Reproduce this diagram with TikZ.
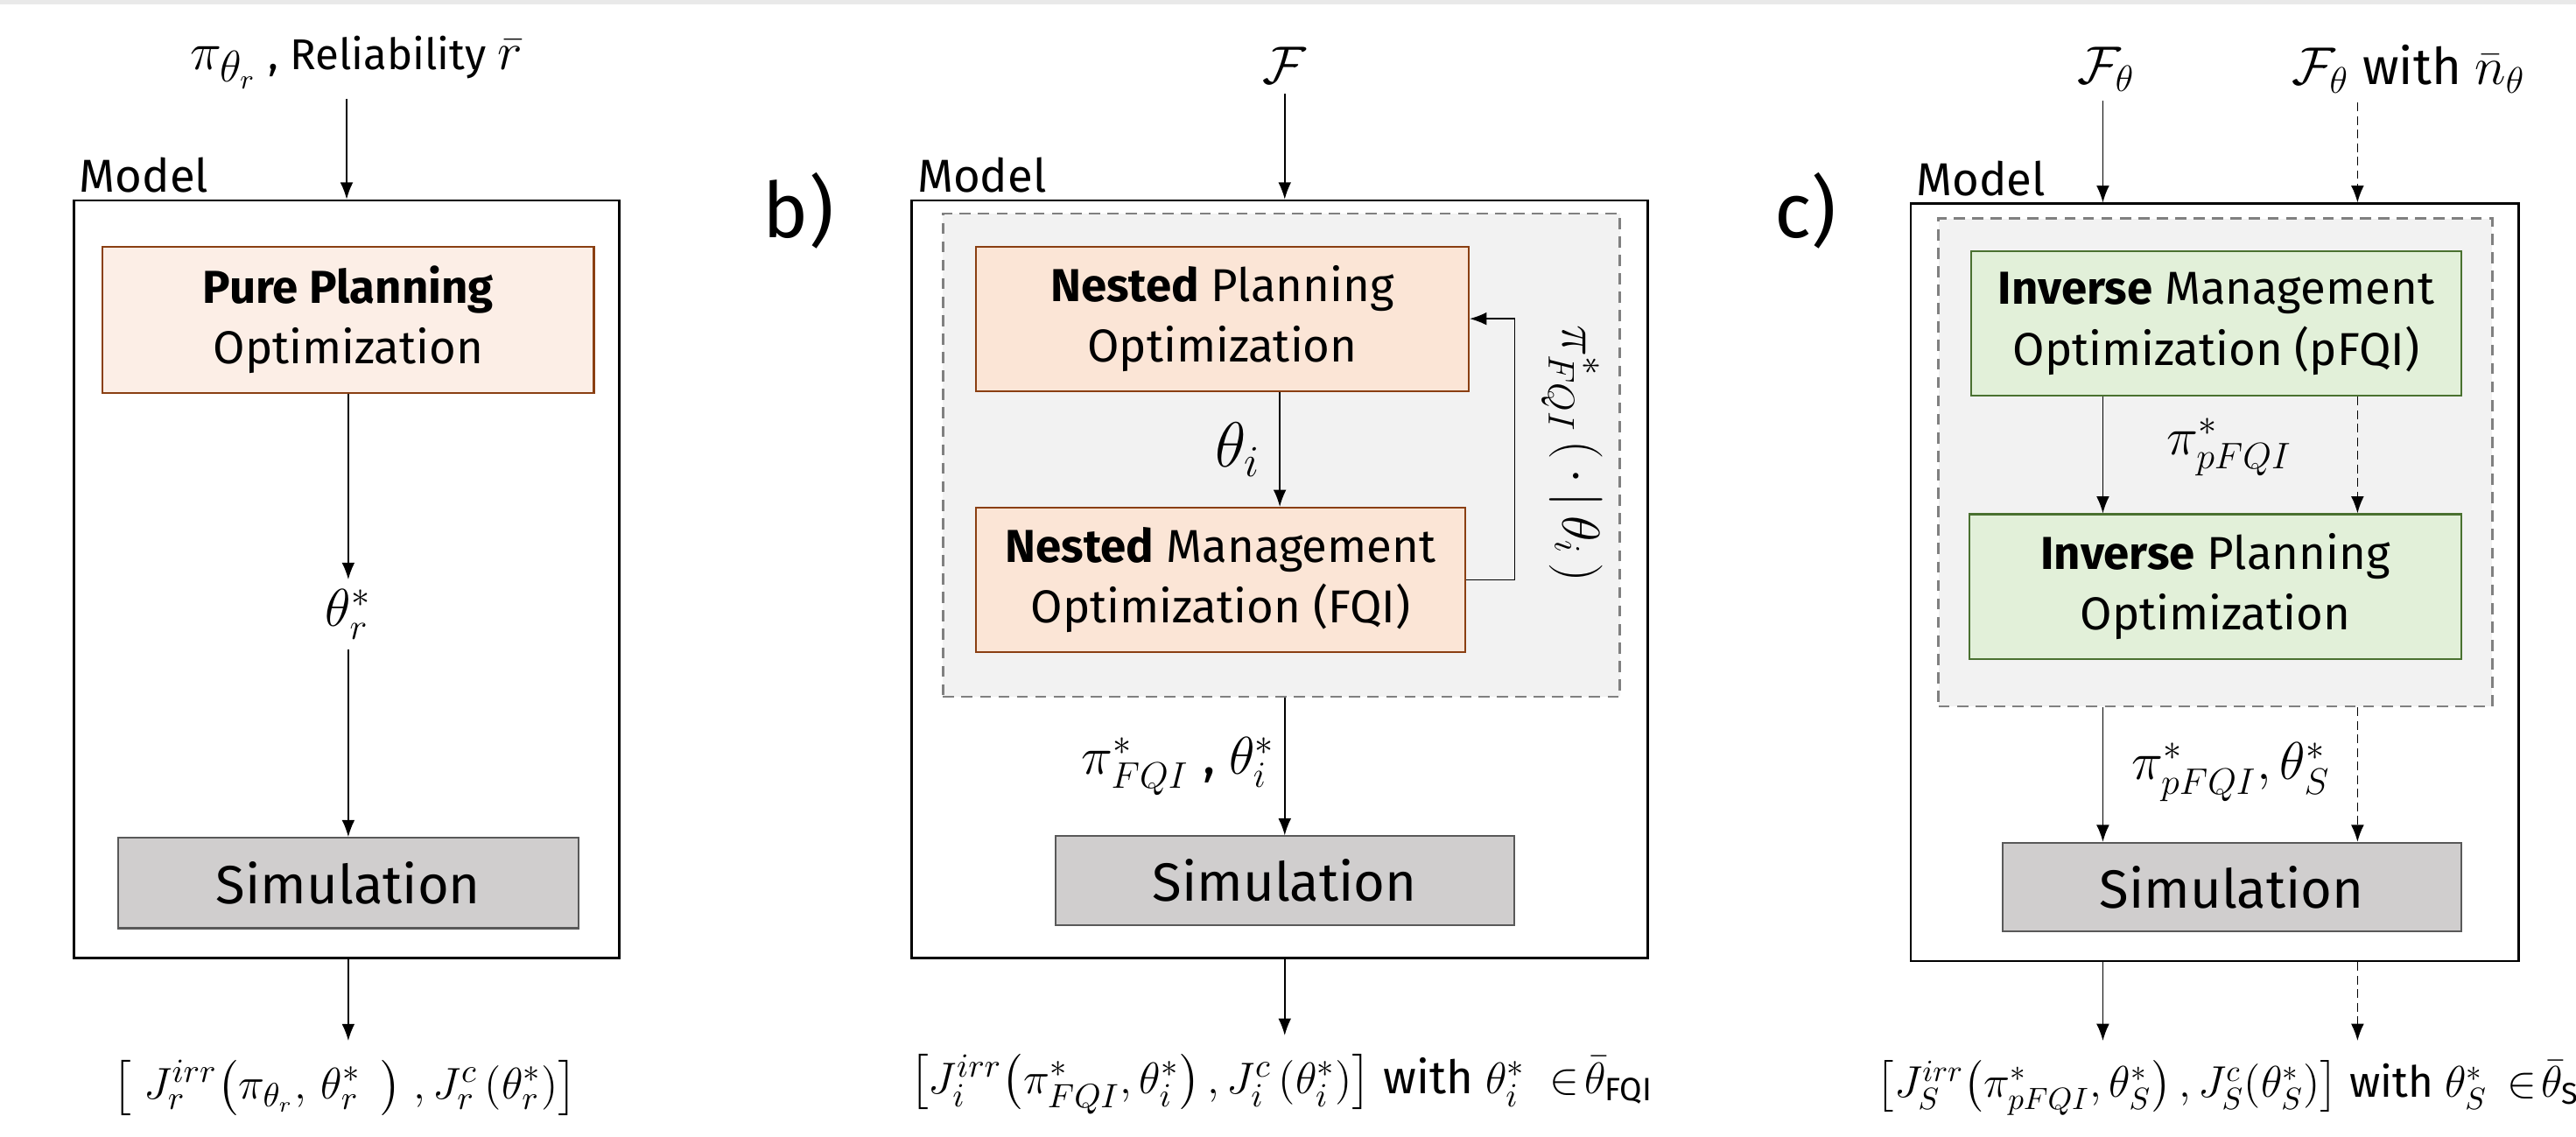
\documentclass[tikz,border=0pt]{standalone}
\usepackage{amsmath}
\usepackage{amssymb}
\usepackage{fontspec}
\setmainfont{Fira Sans}
\usetikzlibrary{arrows.meta}

\definecolor{kopfgrau}{HTML}{E9E9E9}
\definecolor{purefuell}{HTML}{FCEEE6}
\definecolor{planfuell}{HTML}{FBE5D6}
\definecolor{planrand}{HTML}{8A3F12}
\definecolor{invfuell}{HTML}{E2F0D9}
\definecolor{invrand}{HTML}{4A7130}
\definecolor{simfuell}{HTML}{D0CECE}
\definecolor{simrand}{HTML}{595959}
\definecolor{rahmengrau}{HTML}{808080}
\definecolor{innenfuell}{HTML}{F2F2F2}

\begin{document}
\begin{tikzpicture}[x=0.01877cm, y=-0.01877cm,
    optbox/.style={draw, line width=0.6pt, align=center, inner sep=0pt,
        font=\fontsize{15}{19.7}\selectfont},
    purebox/.style={optbox, draw=planrand, fill=purefuell},
    planbox/.style={optbox, draw=planrand, fill=planfuell},
    invbox/.style={optbox, draw=invrand, fill=invfuell},
    simbox/.style={optbox, draw=simrand, fill=simfuell,
        font=\fontsize{17.5}{20}\selectfont},
    modelbox/.style={draw=black, line width=0.75pt, inner sep=0pt},
    modeltext/.style={anchor=south west, inner sep=2pt,
        font=\fontsize{15}{18}\selectfont},
    gruppe/.style={draw=rahmengrau, fill=innenfuell, line width=0.75pt,
        dash pattern=on 3.6pt off 2.4pt, inner sep=0pt},
    eingabe/.style={inner sep=3pt, font=\fontsize{16.5}{20}\selectfont},
    mathlabel/.style={inner sep=3pt, font=\fontsize{17}{20}\selectfont},
    ausgabe/.style={inner sep=2pt, font=\fontsize{15}{18}\selectfont},
    abschnitt/.style={inner sep=0pt, font=\fontsize{25}{30}\selectfont},
    pfeil/.style={-{Latex[length=5.5pt,width=4.2pt]}, line width=0.45pt},
    strich/.style={pfeil, dash pattern=on 2.8pt off 1.6pt}]

    % Einheit = ein Pixel der Vorlage
    \def\s{0.01877cm}
    \def\mit{\ with\ }
    \def\gross{\fontsize{19}{20}\selectfont}
    \useasboundingbox (0,0) rectangle (1568,692);

    % Linie am oberen Rand
    \fill[kopfgrau] (0,0) rectangle (1568,2.7);

    % a) Pure Planning
    \node[eingabe, font=\fontsize{14}{17}\selectfont] (ina) at (217,38) {{\gross$\pi_{\theta_r}$} , Reliability {\gross$\bar{r}$}};
    \node[modelbox, minimum width=332*\s, minimum height=461*\s] (moda) at (211,352.5) {};
    \node[modeltext] (mta) at (moda.north west) {Model};
    \node[purebox, minimum width=299*\s, minimum height=89*\s] (purea) at (212,194.5) {\textbf{Pure Planning}\\Optimization};
    \node[mathlabel, font=\fontsize{18}{20}\selectfont] (thra) at (212,374) {$\theta_r^*$};
    \node[simbox, minimum width=280*\s, minimum height=55*\s] (sima) at (212,537.5) {Simulation};
    \node[ausgabe] (outa) at (210,662) {$\bigl[\;J_r^{irr}\bigl(\pi_{\theta_r},\,\theta_r^*\ \,\bigr)\;,J_r^{c}\,(\theta_r^*)\bigr]$};

    \draw[pfeil] (ina.south -| moda.north) -- (moda.north);
    \draw[pfeil] (purea) -- (thra);
    \draw[pfeil] (thra) -- (sima);
    \draw[pfeil, shorten >=4pt] (moda.south -| sima) -- (outa.north -| sima);

    % b) Nested
    \node[abschnitt] (lb) at (486,128) {b)};
    \node[eingabe, font=\fontsize{18}{20}\selectfont] (inb) at (782,40) {$\mathcal{F}$};
    \node[modelbox, minimum width=448*\s, minimum height=461*\s] (modb) at (779,352.5) {};
    \node[modeltext] (mtb) at (modb.north west) {Model};
    \node[gruppe, minimum width=412*\s, minimum height=294*\s] (grb) at (780,277) {};
    \node[planbox, minimum width=300*\s, minimum height=88*\s] (npb) at (744,194) {\textbf{Nested} Planning\\Optimization};
    \node[planbox, minimum width=298*\s, minimum height=88*\s] (nmb) at (743,353) {\textbf{Nested} Management\\Optimization (FQI)};
    \node[mathlabel, rotate=-90] (fbb) at (957,276) {$\pi^*_{FQI}\,(\,\cdot\,|\,\theta_i\,)$};
    \node[simbox, minimum width=279*\s, minimum height=54*\s] (simb) at (782,536) {Simulation};
    \node[ausgabe] (outb) at (780,660) {$\bigl[J_i^{irr}\bigl(\pi^*_{FQI},\theta_i^*\bigr)\,,J_i^{c}\,(\theta_i^*)\bigr]$\mit$\theta_i^*\ \in\!\bar{\theta}_{\text{FQI}}$};
    \coordinate (xb) at (779,0);
    \coordinate (rueck) at (922,0);

    \draw[pfeil] (inb) -- (inb |- modb.north);
    \draw[pfeil] (npb.south -| xb) -- node[mathlabel, left, inner sep=6pt, font=\fontsize{20}{22}\selectfont] {$\theta_i$} (nmb.north -| xb);
    \draw[pfeil] (nmb.east) -- (nmb.east -| rueck) -- (npb.east -| rueck) -- (npb.east);
    \draw[pfeil] (grb.south -| simb) -- node[mathlabel, left] {$\pi^*_{FQI}$ , $\theta_i^*$} (simb);
    \draw[pfeil, shorten >=4pt] (modb.south -| simb) -- (outb.north -| simb);

    % c) Inverse
    \node[abschnitt] (lc) at (1099,128) {c)};
    \node[eingabe] (inc) at (1282,42) {$\mathcal{F}_\theta$};
    \node[eingabe] (incn) at (1466,42) {$\mathcal{F}_\theta$ with $\bar{n}_\theta$};
    \node[modelbox, minimum width=370*\s, minimum height=461*\s] (modc) at (1348,354.5) {};
    \node[modeltext] (mtc) at (modc.north west) {Model};
    \node[gruppe, minimum width=337*\s, minimum height=297*\s] (grc) at (1348.5,281.5) {};
    \node[invbox, minimum width=298*\s, minimum height=88*\s] (imc) at (1349,197) {\textbf{Inverse} Management\\Optimization (pFQI)};
    \node[invbox, minimum width=299*\s, minimum height=88*\s] (ipc) at (1348.5,357) {\textbf{Inverse} Planning\\Optimization};
    \node[mathlabel] (pic) at (1357,272) {$\pi^*_{pFQI}$};
    \node[simbox, minimum width=279*\s, minimum height=54*\s] (simc) at (1358.5,540) {Simulation};
    \node[mathlabel] (pitc) at (1358,470) {$\pi^*_{pFQI}, \theta_S^*$};
    \node[ausgabe, anchor=west, font=\fontsize{14}{17}\selectfont] (outc) at (1138,662) {$\bigl[J_S^{irr}\bigl(\pi^*_{pFQI},\theta_S^*\bigr)\,,J_S^{c}(\theta_S^*)\bigr]$ with $\theta_S^*\,\in\!\bar{\theta}_{\text{SIM}}$};
    \coordinate (xs) at (1280,0);
    \coordinate (xd) at (1435,0);

    \draw[pfeil] (inc.south -| xs) -- (modc.north -| xs);
    \draw[strich] (incn.south -| xd) -- (modc.north -| xd);
    \draw[pfeil] (imc.south -| xs) -- (ipc.north -| xs);
    \draw[strich] (imc.south -| xd) -- (ipc.north -| xd);
    \draw[pfeil] (grc.south -| xs) -- (simc.north -| xs);
    \draw[strich] (grc.south -| xd) -- (simc.north -| xd);
    \draw[pfeil, shorten >=4pt] (modc.south -| xs) -- (outc.north -| xs);
    \draw[strich, shorten >=4pt] (modc.south -| xd) -- (outc.north -| xd);
\end{tikzpicture}
\end{document}
